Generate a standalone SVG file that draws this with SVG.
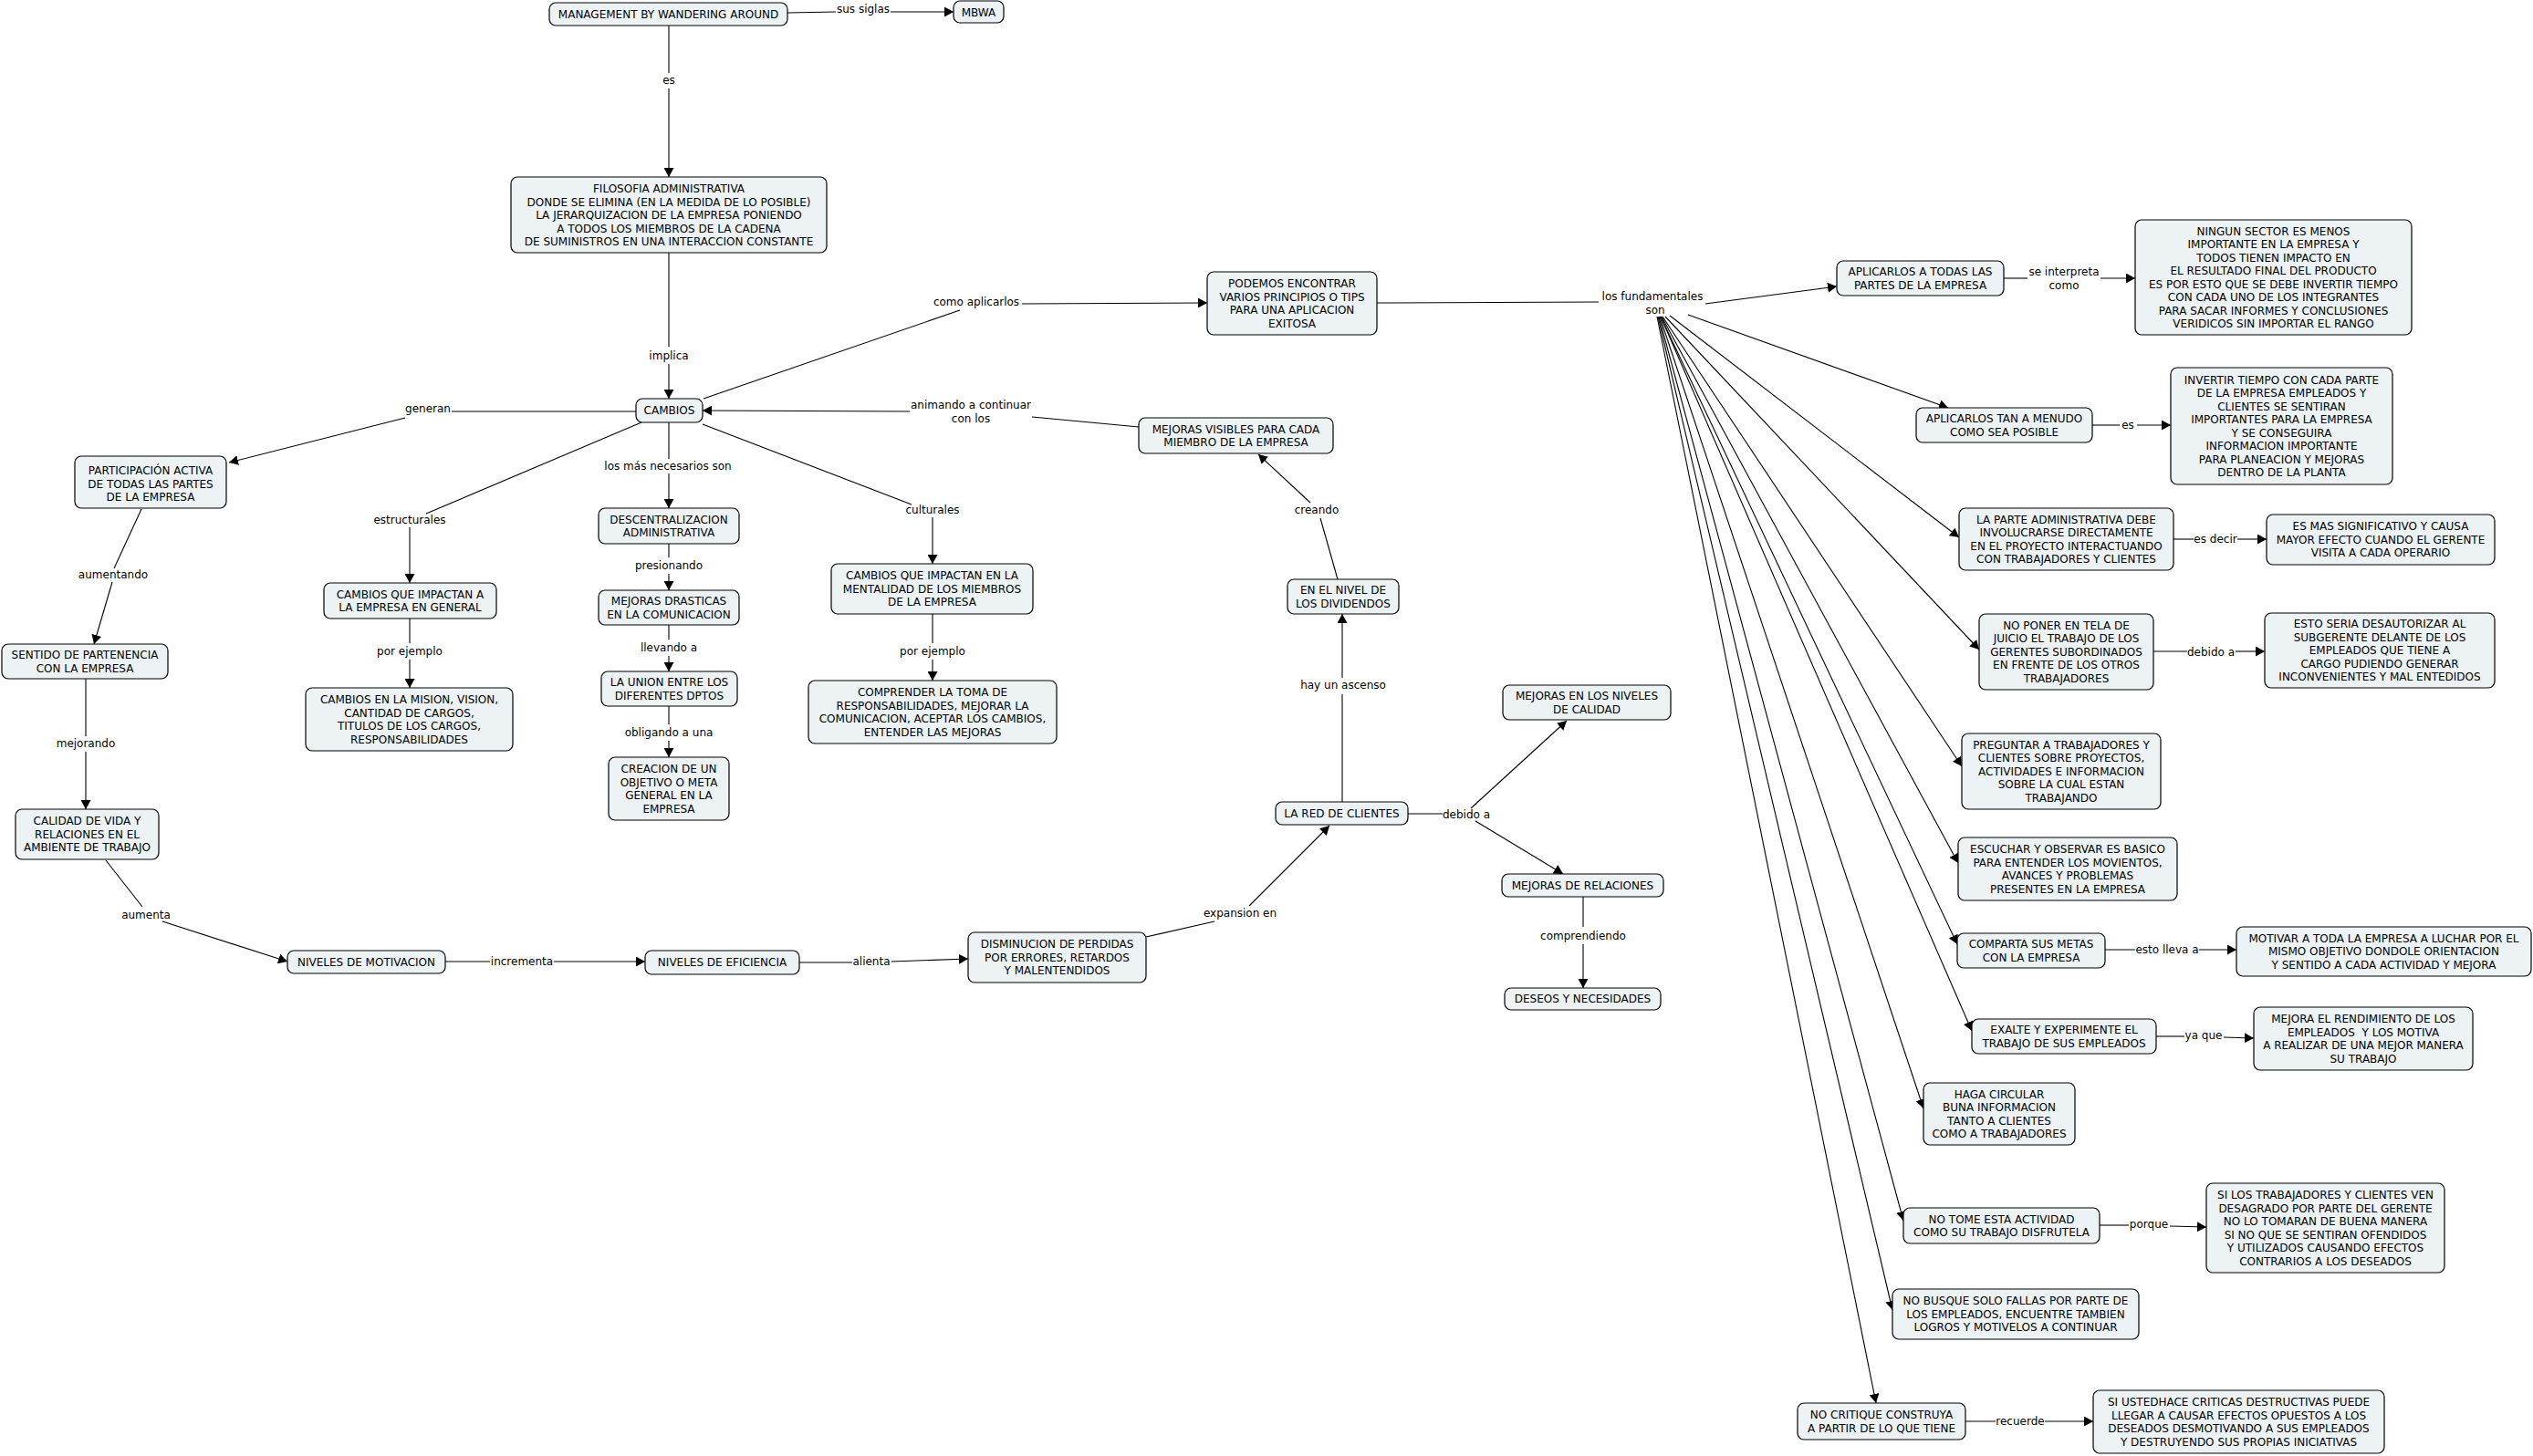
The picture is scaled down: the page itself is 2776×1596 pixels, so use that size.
<svg xmlns="http://www.w3.org/2000/svg" width="2776" height="1596" viewBox="0 0 2776 1596">
<style>
.n rect{fill:#edf3f5;stroke:#000;stroke-width:1.2}
.n text{font-family:"DejaVu Sans",Verdana,sans-serif;font-size:12px;text-anchor:middle;fill:#000;white-space:pre}
.l{font-family:"DejaVu Sans",Verdana,sans-serif;font-size:12px;text-anchor:middle;fill:#000}
#connectors line,#connectors polyline{stroke:#000;stroke-width:1.1;fill:none}
.a{marker-end:url(#arr)}
</style>
<defs>
<marker id="arr" viewBox="0 0 10 10" refX="10" refY="5" markerWidth="10" markerHeight="11" markerUnits="userSpaceOnUse" orient="auto" preserveAspectRatio="none"><path d="M0,0 L10,5 L0,10 z" fill="#000"/></marker>
</defs>
<rect x="0" y="0" width="2776" height="1596" fill="#fff"/>
<g id="connectors">
<g><line x1="863" y1="14" x2="916" y2="13"/><text class="l" x="946" y="14">sus siglas</text><line class="a" x1="976" y1="13" x2="1045" y2="13"/></g>
<g><line x1="733" y1="28" x2="733" y2="80"/><text class="l" x="733" y="92">es</text><line class="a" x1="733" y1="97" x2="733" y2="194"/></g>
<g><line x1="733" y1="277" x2="733" y2="380"/><text class="l" x="733" y="394">implica</text><line class="a" x1="733" y1="399" x2="733" y2="437"/></g>
<g><line x1="697" y1="451" x2="495" y2="451"/><text class="l" x="469" y="452">generan</text><line class="a" x1="444" y1="458" x2="251" y2="507"/></g>
<g><line x1="703" y1="463" x2="467" y2="563"/><text class="l" x="449" y="574">estructurales</text><line class="a" x1="449" y1="578" x2="449" y2="639"/></g>
<g><line x1="733" y1="463" x2="733" y2="503"/><text class="l" x="732" y="515">los más necesarios son</text><line class="a" x1="733" y1="519" x2="733" y2="557"/></g>
<g><line x1="770" y1="465" x2="999" y2="553"/><text class="l" x="1022" y="563">culturales</text><line class="a" x1="1022" y1="567" x2="1022" y2="618"/></g>
<g><line x1="733" y1="596" x2="733" y2="611"/><text class="l" x="733" y="624">presionando</text><line class="a" x1="733" y1="629" x2="733" y2="647"/></g>
<g><line x1="733" y1="685" x2="733" y2="701"/><text class="l" x="733" y="714">llevando a</text><line class="a" x1="733" y1="719" x2="733" y2="736"/></g>
<g><line x1="733" y1="774" x2="733" y2="794"/><text class="l" x="733" y="807">obligando a una</text><line class="a" x1="733" y1="812" x2="733" y2="830"/></g>
<g><line x1="449" y1="678" x2="449" y2="705"/><text class="l" x="449" y="718">por ejemplo</text><line class="a" x1="449" y1="723" x2="449" y2="754"/></g>
<g><line x1="1022" y1="673" x2="1022" y2="705"/><text class="l" x="1022" y="718">por ejemplo</text><line class="a" x1="1022" y1="723" x2="1022" y2="746"/></g>
<g><line x1="155" y1="558" x2="125" y2="623"/><text class="l" x="124" y="634">aumentando</text><line class="a" x1="123" y1="638" x2="103" y2="706"/></g>
<g><line x1="94" y1="744" x2="94" y2="807"/><text class="l" x="94" y="819">mejorando</text><line class="a" x1="94" y1="824" x2="94" y2="887"/></g>
<g><line x1="116" y1="943" x2="156" y2="994"/><text class="l" x="160" y="1007">aumenta</text><line class="a" x1="178" y1="1010" x2="315" y2="1054"/></g>
<g><line x1="488" y1="1054" x2="537" y2="1054"/><text class="l" x="572" y="1058">incrementa</text><line class="a" x1="607" y1="1054" x2="707" y2="1054"/></g>
<g><line x1="876" y1="1055" x2="934" y2="1055"/><text class="l" x="955" y="1058">alienta</text><line class="a" x1="977" y1="1054" x2="1061" y2="1051"/></g>
<g><line x1="1256" y1="1027" x2="1331" y2="1010"/><text class="l" x="1359" y="1005">expansion en</text><line class="a" x1="1369" y1="993" x2="1457" y2="905"/></g>
<g><line x1="1471" y1="879" x2="1471" y2="761"/><text class="l" x="1472" y="755">hay un ascenso</text><line class="a" x1="1471" y1="743" x2="1471" y2="673"/></g>
<g><line x1="1466" y1="635" x2="1447" y2="568"/><text class="l" x="1443" y="563">creando</text><line class="a" x1="1436" y1="551" x2="1379" y2="498"/></g>
<g><line x1="1248" y1="468" x2="1131" y2="457"/><text class="l" x="1064" y="448">animando a continuar</text><text class="l" x="1064" y="463">con los</text><line class="a" x1="997" y1="451" x2="770" y2="450"/></g>
<g><line x1="771" y1="437" x2="1052" y2="340"/><text class="l" x="1070" y="335">como aplicarlos</text><line class="a" x1="1120" y1="333" x2="1323" y2="332"/></g>
<g><line x1="1509" y1="332" x2="1752" y2="331"/><text class="l" x="1811" y="329">los fundamentales</text><text class="l" x="1814" y="344">son</text><line class="a" x1="1869" y1="333" x2="2013" y2="314"/></g>
<g><line class="a" x1="1850" y1="345" x2="2135" y2="447"/></g>
<g><line class="a" x1="1830" y1="346" x2="2147" y2="589"/></g>
<g><line class="a" x1="1825" y1="347" x2="2169" y2="712"/></g>
<g><line class="a" x1="1822" y1="347" x2="2150" y2="840"/></g>
<g><line class="a" x1="1821" y1="347" x2="2146" y2="946"/></g>
<g><line class="a" x1="1820" y1="347" x2="2145" y2="1035"/></g>
<g><line class="a" x1="1820" y1="347" x2="2161" y2="1130"/></g>
<g><line class="a" x1="1819" y1="347" x2="2108" y2="1215"/></g>
<g><line class="a" x1="1818" y1="347" x2="2086" y2="1338"/></g>
<g><line class="a" x1="1817" y1="347" x2="2074" y2="1436"/></g>
<g><line class="a" x1="1816" y1="347" x2="2056" y2="1538"/></g>
<g><line x1="2196" y1="305" x2="2222" y2="305"/><text class="l" x="2262" y="302">se interpreta</text><text class="l" x="2262" y="317">como</text><line class="a" x1="2302" y1="305" x2="2340" y2="305"/></g>
<g><line x1="2293" y1="466" x2="2323" y2="466"/><text class="l" x="2332" y="470">es</text><line class="a" x1="2342" y1="466" x2="2379" y2="466"/></g>
<g><line x1="2382" y1="591" x2="2404" y2="591"/><text class="l" x="2428" y="595">es decir</text><line class="a" x1="2452" y1="591" x2="2484" y2="591"/></g>
<g><line x1="2360" y1="714" x2="2397" y2="714"/><text class="l" x="2423" y="719">debido a</text><line class="a" x1="2450" y1="714" x2="2482" y2="714"/></g>
<g><line x1="2307" y1="1041" x2="2340" y2="1041"/><text class="l" x="2375" y="1045">esto lleva a</text><line class="a" x1="2410" y1="1041" x2="2451" y2="1041"/></g>
<g><line x1="2363" y1="1136" x2="2394" y2="1136"/><text class="l" x="2415" y="1139">ya que</text><line class="a" x1="2437" y1="1137" x2="2470" y2="1138"/></g>
<g><line x1="2301" y1="1343" x2="2333" y2="1343"/><text class="l" x="2355" y="1346">porque</text><line class="a" x1="2378" y1="1344" x2="2418" y2="1345"/></g>
<g><line x1="2154" y1="1558" x2="2187" y2="1558"/><text class="l" x="2214" y="1562">recuerde</text><line class="a" x1="2241" y1="1558" x2="2294" y2="1558"/></g>
<g><line x1="1543" y1="892" x2="1581" y2="892"/><text class="l" x="1607" y="897">debido a</text><line class="a" x1="1612" y1="886" x2="1717" y2="790"/><line class="a" x1="1617" y1="900" x2="1713" y2="958"/></g>
<g><line x1="1735" y1="983" x2="1735" y2="1016"/><text class="l" x="1735" y="1030">comprendiendo</text><line class="a" x1="1735" y1="1035" x2="1735" y2="1083"/></g>
</g>
<g id="n_management" class="n"><rect x="602" y="3" width="261" height="25" rx="7"/><text x="732.5" y="20">MANAGEMENT BY WANDERING AROUND</text></g>
<g id="n_mbwa" class="n"><rect x="1045" y="1" width="55" height="24" rx="7"/><text x="1072.5" y="17.5">MBWA</text></g>
<g id="n_filosofia" class="n"><rect x="560" y="194" width="346" height="83" rx="7"/><text><tspan x="733" y="211">FILOSOFIA ADMINISTRATIVA</tspan><tspan x="733" y="225.5">DONDE SE ELIMINA (EN LA MEDIDA DE LO POSIBLE)</tspan><tspan x="733" y="240">LA JERARQUIZACION DE LA EMPRESA PONIENDO</tspan><tspan x="733" y="254.5">A TODOS LOS MIEMBROS DE LA CADENA</tspan><tspan x="733" y="269">DE SUMINISTROS EN UNA INTERACCION CONSTANTE</tspan></text></g>
<g id="n_cambios" class="n"><rect x="697" y="437" width="73" height="26" rx="7"/><text x="733.5" y="454.3">CAMBIOS</text></g>
<g id="n_participacion" class="n"><rect x="82" y="500" width="166" height="57" rx="7"/><text><tspan x="165" y="520">PARTICIPACIÓN ACTIVA</tspan><tspan x="165" y="534.5">DE TODAS LAS PARTES</tspan><tspan x="165" y="549">DE LA EMPRESA</tspan></text></g>
<g id="n_sentido" class="n"><rect x="2" y="706" width="182" height="38" rx="7"/><text><tspan x="93" y="722">SENTIDO DE PARTENENCIA</tspan><tspan x="93" y="736.5">CON LA EMPRESA</tspan></text></g>
<g id="n_calidad_vida" class="n"><rect x="17" y="887" width="157" height="55" rx="7"/><text><tspan x="95.5" y="904.3">CALIDAD DE VIDA Y</tspan><tspan x="95.5" y="918.8">RELACIONES EN EL</tspan><tspan x="95.5" y="933.3">AMBIENTE DE TRABAJO</tspan></text></g>
<g id="n_motivacion" class="n"><rect x="315" y="1042" width="173" height="25" rx="7"/><text x="401.5" y="1058.8">NIVELES DE MOTIVACION</text></g>
<g id="n_eficiencia" class="n"><rect x="707" y="1042" width="169" height="26" rx="7"/><text x="791.5" y="1059.3">NIVELES DE EFICIENCIA</text></g>
<g id="n_disminucion" class="n"><rect x="1061" y="1022" width="195" height="55" rx="7"/><text><tspan x="1158.5" y="1039.3">DISMINUCION DE PERDIDAS</tspan><tspan x="1158.5" y="1053.8">POR ERRORES, RETARDOS</tspan><tspan x="1158.5" y="1068.3">Y MALENTENDIDOS</tspan></text></g>
<g id="n_cambios_general" class="n"><rect x="355" y="639" width="189" height="39" rx="7"/><text><tspan x="449.5" y="655.5">CAMBIOS QUE IMPACTAN A</tspan><tspan x="449.5" y="670">LA EMPRESA EN GENERAL</tspan></text></g>
<g id="n_mision" class="n"><rect x="335" y="754" width="227" height="69" rx="7"/><text><tspan x="448.5" y="771">CAMBIOS EN LA MISION, VISION,</tspan><tspan x="448.5" y="785.5">CANTIDAD DE CARGOS,</tspan><tspan x="448.5" y="800">TITULOS DE LOS CARGOS,</tspan><tspan x="448.5" y="814.5">RESPONSABILIDADES</tspan></text></g>
<g id="n_descentralizacion" class="n"><rect x="656" y="557" width="154" height="39" rx="7"/><text><tspan x="733" y="573.5">DESCENTRALIZACION</tspan><tspan x="733" y="588">ADMINISTRATIVA</tspan></text></g>
<g id="n_mejoras_drasticas" class="n"><rect x="656" y="647" width="154" height="38" rx="7"/><text><tspan x="733" y="663">MEJORAS DRASTICAS</tspan><tspan x="733" y="677.5">EN LA COMUNICACION</tspan></text></g>
<g id="n_union" class="n"><rect x="659" y="736" width="149" height="38" rx="7"/><text><tspan x="733.5" y="752">LA UNION ENTRE LOS</tspan><tspan x="733.5" y="766.5">DIFERENTES DPTOS</tspan></text></g>
<g id="n_creacion" class="n"><rect x="667" y="830" width="132" height="69" rx="7"/><text><tspan x="733" y="847">CREACION DE UN</tspan><tspan x="733" y="861.5">OBJETIVO O META</tspan><tspan x="733" y="876">GENERAL EN LA</tspan><tspan x="733" y="890.5">EMPRESA</tspan></text></g>
<g id="n_cambios_mentalidad" class="n"><rect x="911" y="618" width="221" height="55" rx="7"/><text><tspan x="1021.5" y="635.3">CAMBIOS QUE IMPACTAN EN LA</tspan><tspan x="1021.5" y="649.8">MENTALIDAD DE LOS MIEMBROS</tspan><tspan x="1021.5" y="664.3">DE LA EMPRESA</tspan></text></g>
<g id="n_comprender" class="n"><rect x="886" y="746" width="272" height="69" rx="7"/><text><tspan x="1022" y="763">COMPRENDER LA TOMA DE</tspan><tspan x="1022" y="777.5">RESPONSABILIDADES, MEJORAR LA</tspan><tspan x="1022" y="792">COMUNICACION, ACEPTAR LOS CAMBIOS,</tspan><tspan x="1022" y="806.5">ENTENDER LAS MEJORAS</tspan></text></g>
<g id="n_mejoras_visibles" class="n"><rect x="1248" y="458" width="213" height="39" rx="7"/><text><tspan x="1354.5" y="474.5">MEJORAS VISIBLES PARA CADA</tspan><tspan x="1354.5" y="489">MIEMBRO DE LA EMPRESA</tspan></text></g>
<g id="n_dividendos" class="n"><rect x="1411" y="635" width="122" height="38" rx="7"/><text><tspan x="1472" y="651">EN EL NIVEL DE</tspan><tspan x="1472" y="665.5">LOS DIVIDENDOS</tspan></text></g>
<g id="n_podemos" class="n"><rect x="1323" y="298" width="186" height="69" rx="7"/><text><tspan x="1416" y="315">PODEMOS ENCONTRAR</tspan><tspan x="1416" y="329.5">VARIOS PRINCIPIOS O TIPS</tspan><tspan x="1416" y="344">PARA UNA APLICACION</tspan><tspan x="1416" y="358.5">EXITOSA</tspan></text></g>
<g id="n_red" class="n"><rect x="1398" y="879" width="145" height="25" rx="7"/><text x="1470.5" y="895.8">LA RED DE CLIENTES</text></g>
<g id="n_calidad_niveles" class="n"><rect x="1647" y="751" width="184" height="38" rx="7"/><text><tspan x="1739" y="767">MEJORAS EN LOS NIVELES</tspan><tspan x="1739" y="781.5">DE CALIDAD</tspan></text></g>
<g id="n_relaciones" class="n"><rect x="1646" y="958" width="177" height="25" rx="7"/><text x="1734.5" y="974.8">MEJORAS DE RELACIONES</text></g>
<g id="n_deseos" class="n"><rect x="1649" y="1083" width="171" height="24" rx="7"/><text x="1734.5" y="1099.3">DESEOS Y NECESIDADES</text></g>
<g id="n_aplicarlos_todas" class="n"><rect x="2013" y="286" width="183" height="38" rx="7"/><text><tspan x="2104.5" y="302">APLICARLOS A TODAS LAS</tspan><tspan x="2104.5" y="316.5">PARTES DE LA EMPRESA</tspan></text></g>
<g id="n_ningun" class="n"><rect x="2340" y="241" width="303" height="126" rx="7"/><text><tspan x="2491.5" y="257.5">NINGUN SECTOR ES MENOS</tspan><tspan x="2491.5" y="272">IMPORTANTE EN LA EMPRESA Y</tspan><tspan x="2491.5" y="286.5">TODOS TIENEN IMPACTO EN</tspan><tspan x="2491.5" y="301">EL RESULTADO FINAL DEL PRODUCTO</tspan><tspan x="2491.5" y="315.5">ES POR ESTO QUE SE DEBE INVERTIR TIEMPO</tspan><tspan x="2491.5" y="330">CON CADA UNO DE LOS INTEGRANTES</tspan><tspan x="2491.5" y="344.5">PARA SACAR INFORMES Y CONCLUSIONES</tspan><tspan x="2491.5" y="359">VERIDICOS SIN IMPORTAR EL RANGO</tspan></text></g>
<g id="n_menudo" class="n"><rect x="2100" y="447" width="193" height="38" rx="7"/><text><tspan x="2196.5" y="463">APLICARLOS TAN A MENUDO</tspan><tspan x="2196.5" y="477.5">COMO SEA POSIBLE</tspan></text></g>
<g id="n_invertir" class="n"><rect x="2379" y="403" width="243" height="128" rx="7"/><text><tspan x="2500.5" y="420.5">INVERTIR TIEMPO CON CADA PARTE</tspan><tspan x="2500.5" y="435">DE LA EMPRESA EMPLEADOS Y</tspan><tspan x="2500.5" y="449.5">CLIENTES SE SENTIRAN</tspan><tspan x="2500.5" y="464">IMPORTANTES PARA LA EMPRESA</tspan><tspan x="2500.5" y="478.5">Y SE CONSEGUIRA</tspan><tspan x="2500.5" y="493">INFORMACION IMPORTANTE</tspan><tspan x="2500.5" y="507.5">PARA PLANEACION Y MEJORAS</tspan><tspan x="2500.5" y="522">DENTRO DE LA PLANTA</tspan></text></g>
<g id="n_parte_admin" class="n"><rect x="2147" y="557" width="235" height="68" rx="7"/><text><tspan x="2264.5" y="573.5">LA PARTE ADMINISTRATIVA DEBE</tspan><tspan x="2264.5" y="588">INVOLUCRARSE DIRECTAMENTE</tspan><tspan x="2264.5" y="602.5">EN EL PROYECTO INTERACTUANDO</tspan><tspan x="2264.5" y="617">CON TRABAJADORES Y CLIENTES</tspan></text></g>
<g id="n_es_mas" class="n"><rect x="2484" y="564" width="250" height="55" rx="7"/><text><tspan x="2609" y="581.3">ES MAS SIGNIFICATIVO Y CAUSA</tspan><tspan x="2609" y="595.8">MAYOR EFECTO CUANDO EL GERENTE</tspan><tspan x="2609" y="610.3">VISITA A CADA OPERARIO</tspan></text></g>
<g id="n_no_poner" class="n"><rect x="2169" y="673" width="191" height="83" rx="7"/><text><tspan x="2264.5" y="689.8">NO PONER EN TELA DE</tspan><tspan x="2264.5" y="704.3">JUICIO EL TRABAJO DE LOS</tspan><tspan x="2264.5" y="718.8">GERENTES SUBORDINADOS</tspan><tspan x="2264.5" y="733.3">EN FRENTE DE LOS OTROS</tspan><tspan x="2264.5" y="747.8">TRABAJADORES</tspan></text></g>
<g id="n_esto_seria" class="n"><rect x="2482" y="672" width="252" height="82" rx="7"/><text><tspan x="2608" y="688.3">ESTO SERIA DESAUTORIZAR AL</tspan><tspan x="2608" y="702.8">SUBGERENTE DELANTE DE LOS</tspan><tspan x="2608" y="717.3">EMPLEADOS QUE TIENE A</tspan><tspan x="2608" y="731.8">CARGO PUDIENDO GENERAR</tspan><tspan x="2608" y="746.3">INCONVENIENTES Y MAL ENTEDIDOS</tspan></text></g>
<g id="n_preguntar" class="n"><rect x="2150" y="804" width="218" height="83" rx="7"/><text><tspan x="2259" y="820.8">PREGUNTAR A TRABAJADORES Y</tspan><tspan x="2259" y="835.3">CLIENTES SOBRE PROYECTOS,</tspan><tspan x="2259" y="849.8">ACTIVIDADES E INFORMACION</tspan><tspan x="2259" y="864.3">SOBRE LA CUAL ESTAN</tspan><tspan x="2259" y="878.8">TRABAJANDO</tspan></text></g>
<g id="n_escuchar" class="n"><rect x="2146" y="918" width="240" height="69" rx="7"/><text><tspan x="2266" y="935">ESCUCHAR Y OBSERVAR ES BASICO</tspan><tspan x="2266" y="949.5">PARA ENTENDER LOS MOVIENTOS,</tspan><tspan x="2266" y="964">AVANCES Y PROBLEMAS</tspan><tspan x="2266" y="978.5">PRESENTES EN LA EMPRESA</tspan></text></g>
<g id="n_comparta" class="n"><rect x="2145" y="1023" width="162" height="38" rx="7"/><text><tspan x="2226" y="1039">COMPARTA SUS METAS</tspan><tspan x="2226" y="1053.5">CON LA EMPRESA</tspan></text></g>
<g id="n_motivar" class="n"><rect x="2451" y="1016" width="323" height="54" rx="7"/><text><tspan x="2612.5" y="1032.8">MOTIVAR A TODA LA EMPRESA A LUCHAR POR EL</tspan><tspan x="2612.5" y="1047.3">MISMO OBJETIVO DONDOLE ORIENTACION</tspan><tspan x="2612.5" y="1061.8">Y SENTIDO A CADA ACTIVIDAD Y MEJORA</tspan></text></g>
<g id="n_exalte" class="n"><rect x="2161" y="1117" width="202" height="38" rx="7"/><text><tspan x="2262" y="1133">EXALTE Y EXPERIMENTE EL</tspan><tspan x="2262" y="1147.5">TRABAJO DE SUS EMPLEADOS</tspan></text></g>
<g id="n_mejora_rend" class="n"><rect x="2470" y="1104" width="240" height="69" rx="7"/><text><tspan x="2590" y="1121">MEJORA EL RENDIMIENTO DE LOS</tspan><tspan x="2590" y="1135.5">EMPLEADOS  Y LOS MOTIVA</tspan><tspan x="2590" y="1150">A REALIZAR DE UNA MEJOR MANERA</tspan><tspan x="2590" y="1164.5">SU TRABAJO</tspan></text></g>
<g id="n_haga" class="n"><rect x="2108" y="1187" width="166" height="68" rx="7"/><text><tspan x="2191" y="1203.5">HAGA CIRCULAR</tspan><tspan x="2191" y="1218">BUNA INFORMACION</tspan><tspan x="2191" y="1232.5">TANTO A CLIENTES</tspan><tspan x="2191" y="1247">COMO A TRABAJADORES</tspan></text></g>
<g id="n_no_tome" class="n"><rect x="2086" y="1324" width="215" height="39" rx="7"/><text><tspan x="2193.5" y="1340.5">NO TOME ESTA ACTIVIDAD</tspan><tspan x="2193.5" y="1355">COMO SU TRABAJO DISFRUTELA</tspan></text></g>
<g id="n_si_los" class="n"><rect x="2418" y="1297" width="261" height="98" rx="7"/><text><tspan x="2548.5" y="1314">SI LOS TRABAJADORES Y CLIENTES VEN</tspan><tspan x="2548.5" y="1328.5">DESAGRADO POR PARTE DEL GERENTE</tspan><tspan x="2548.5" y="1343">NO LO TOMARAN DE BUENA MANERA</tspan><tspan x="2548.5" y="1357.5">SI NO QUE SE SENTIRAN OFENDIDOS</tspan><tspan x="2548.5" y="1372">Y UTILIZADOS CAUSANDO EFECTOS</tspan><tspan x="2548.5" y="1386.5">CONTRARIOS A LOS DESEADOS</tspan></text></g>
<g id="n_no_busque" class="n"><rect x="2074" y="1413" width="270" height="55" rx="7"/><text><tspan x="2209" y="1430.3">NO BUSQUE SOLO FALLAS POR PARTE DE</tspan><tspan x="2209" y="1444.8">LOS EMPLEADOS, ENCUENTRE TAMBIEN</tspan><tspan x="2209" y="1459.3">LOGROS Y MOTIVELOS A CONTINUAR</tspan></text></g>
<g id="n_no_critique" class="n"><rect x="1970" y="1538" width="184" height="40" rx="7"/><text><tspan x="2062" y="1555">NO CRITIQUE CONSTRUYA</tspan><tspan x="2062" y="1569.5">A PARTIR DE LO QUE TIENE</tspan></text></g>
<g id="n_si_usted" class="n"><rect x="2294" y="1524" width="319" height="69" rx="7"/><text><tspan x="2453.5" y="1541">SI USTEDHACE CRITICAS DESTRUCTIVAS PUEDE</tspan><tspan x="2453.5" y="1555.5">LLEGAR A CAUSAR EFECTOS OPUESTOS A LOS</tspan><tspan x="2453.5" y="1570">DESEADOS DESMOTIVANDO A SUS EMPLEADOS</tspan><tspan x="2453.5" y="1584.5">Y DESTRUYENDO SUS PROPIAS INICIATIVAS</tspan></text></g>
</svg>
